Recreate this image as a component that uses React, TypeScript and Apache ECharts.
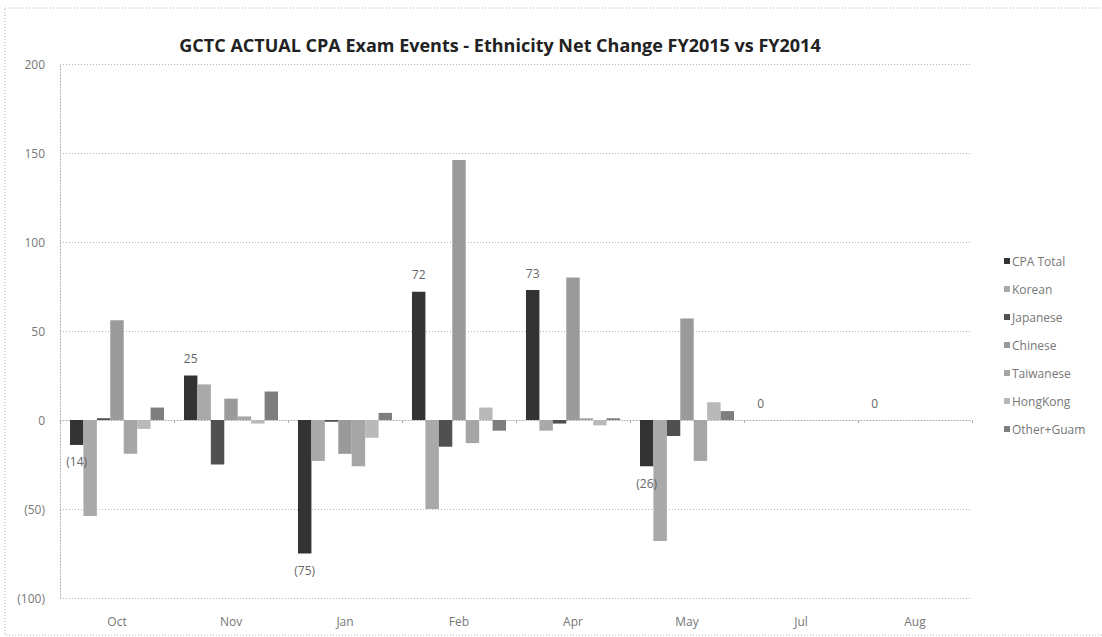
import React, { useEffect, useRef } from "react";
import * as echarts from "echarts";

const categories = ["Oct", "Nov", "Jan", "Feb", "Apr", "May", "Jul", "Aug"];
const seriesNames = ["CPA Total", "Korean", "Japanese", "Chinese", "Taiwanese", "HongKong", "Other+Guam"];
const cpaTotal = [-14, 25, -75, 72, 73, -26, 0, 0];
const korean = [-54, 20, -23, -50, -6, -68, 0, 0];
const japanese = [1, -25, -1, -15, -2, -9, 0, 0];
const chinese = [56, 12, -19, 146, 80, 57, 0, 0];
const taiwanese = [-19, 2, -26, -13, 1, -23, 0, 0];
const hongKong = [-5, -2, -10, 7, -3, 10, 0, 0];
const otherGuam = [7, 16, 4, -6, 1, 5, 0, 0];
const yTicks = { min: -100, max: 200, interval: 50 };

const colors = ["#333333", "#a9a9a9", "#505050", "#9a9a9a", "#a6a6a6", "#b9b9b9", "#7e7e7e"];

const fmt = (v: number) => (v < 0 ? `(${-v})` : `${v}`);

export default function App() {
  const ref = useRef<HTMLDivElement>(null);
  useEffect(() => {
    if (!ref.current) return;
    const chart = echarts.init(ref.current, null, { renderer: "svg" });
    const values = [cpaTotal, korean, japanese, chinese, taiwanese, hongKong, otherGuam];
    const font = "'Open Sans', sans-serif";
    const series = values.map((arr, i) => ({
      name: seriesNames[i],
      type: "bar",
      xAxisIndex: 0,
      barGap: "0%",
      barCategoryGap: "17.5%",
      itemStyle: { color: colors[i] },
      data:
        i === 0
          ? arr.map((v) => ({
              value: v,
              label: { position: v < 0 ? "bottom" : "top" },
            }))
          : arr,
      label:
        i === 0
          ? {
              show: true,
              distance: 11,
              fontSize: 12,
              fontFamily: font,
              color: "#666",
              formatter: (p: any) => fmt(p.value),
            }
          : { show: false },
    }));
    chart.setOption({
      animation: false,
      backgroundColor: "#ffffff",
      title: {
        text: "GCTC ACTUAL CPA Exam Events - Ethnicity Net Change FY2015 vs FY2014",
        left: 495,
        textAlign: "center",
        top: 31,
        textStyle: { fontFamily: font, fontSize: 18, fontWeight: "bold", color: "#222" },
      },
      legend: {
        orient: "vertical",
        left: 999,
        top: 249,
        itemWidth: 6,
        itemHeight: 6,
        itemGap: 14,
        icon: "rect",
        textStyle: { fontFamily: font, fontSize: 12, color: "#777", lineHeight: 14, padding: [0, 0, 0, -3] },
        data: seriesNames,
      },
      grid: { left: 60, right: 130, top: 64, bottom: 39, containLabel: false },
      xAxis: [
        {
          type: "category",
          data: categories,
          position: "bottom",
          axisLine: { show: true, onZero: true, lineStyle: { color: "#aaa", type: [1, 2] } },
          axisTick: { show: true, length: 3, lineStyle: { color: "#aaa" } },
          axisLabel: { show: false },
        },
        {
          type: "category",
          data: categories,
          position: "bottom",
          axisLine: { show: false, onZero: false },
          axisTick: { show: false },
          axisLabel: { show: true, margin: 17, fontSize: 12, fontFamily: font, color: "#777" },
        },
      ],
      yAxis: {
        type: "value",
        min: yTicks.min,
        max: yTicks.max,
        interval: yTicks.interval,
        axisLine: { show: true, lineStyle: { color: "#aaa", type: [1, 2] } },
        axisTick: { show: false },
        splitLine: { show: true, lineStyle: { color: "#b5b5b5", type: [1, 2] } },
        axisLabel: {
          margin: 15,
          fontSize: 12,
          fontFamily: font,
          color: "#777",
          formatter: (v: number) => fmt(v),
        },
      },
      graphic: [
        {
          type: "rect",
          shape: { x: 5, y: 8, width: 1120, height: 627 },
          style: { fill: "none", stroke: "#b0b0b0", lineWidth: 1, lineDash: [1, 2] },
          silent: true,
        },
      ],
      series,
    });
    return () => chart.dispose();
  }, []);
  return (
    <div
      ref={ref}
      style={{ position: "fixed", left: 0, top: 0, width: 1102, height: 637, background: "#fff" }}
    />
  );
}
